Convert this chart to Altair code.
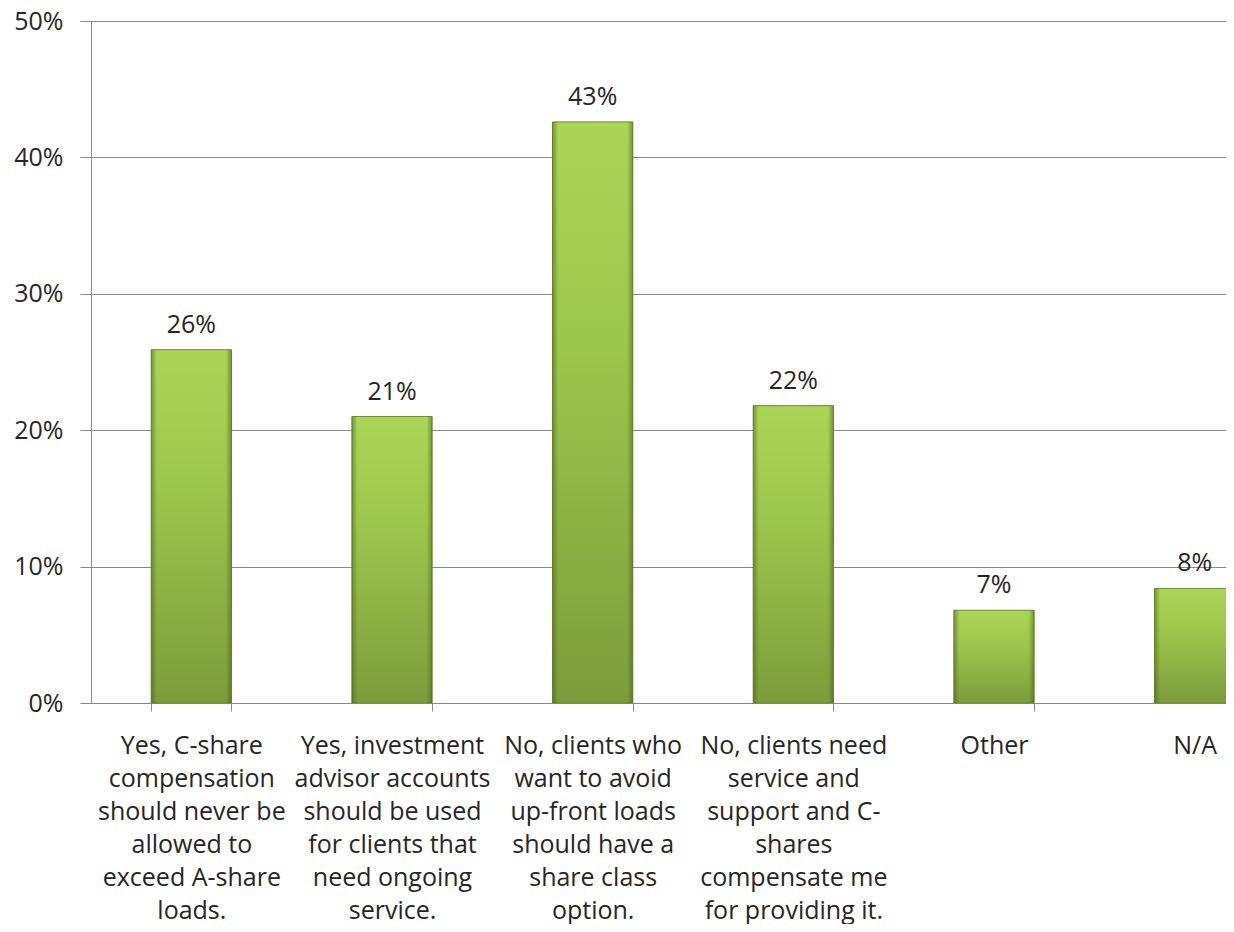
import altair as alt
import pandas as pd

# Data
categories = ["c1", "c2", "c3", "c4", "c5", "c6"]
label_lines = [
    ["Yes, C-share", "compensation", "should never be", "allowed to", "exceed A-share", "loads."],
    ["Yes, investment", "advisor accounts", "should be used", "for clients that", "need ongoing", "service."],
    ["No, clients who", "want to avoid", "up-front loads", "should have a", "share class", "option."],
    ["No, clients need", "service and", "support and C-", "shares", "compensate me", "for providing it."],
    ["Other"],
    ["N/A"],
]
values = [0.259, 0.210, 0.426, 0.218, 0.068, 0.084]
y_ticks = [0, 0.1, 0.2, 0.3, 0.4, 0.5]

labels = ["|".join(l) for l in label_lines]
df = pd.DataFrame({"cat": labels, "value": values})

FONT = "Open Sans"
FS_X = 25
FS = 25
TXT = "#262626"
GRID = "#8a8a8a"

xenc = alt.X(
    "cat:N",
    sort=labels,
    scale=alt.Scale(range=[0, 1204], paddingInner=0.6, paddingOuter=0.3),
    axis=alt.Axis(
        title=None,
        labelAngle=0,
        labelExpr="split(datum.label, '|')",
        labelLineHeight=33,
        labelFont=FONT,
        labelFontSize=FS_X,
        labelColor=TXT,
        labelPadding=22,
        labelLimit=400,
        labelOverlap=False,
        tickSize=8,
        tickBand="extent",
        tickColor=GRID,
        domainColor=GRID,
        labelAlign="center",
        labelBaseline="top",
        grid=False,
    ),
)
yenc = alt.Y(
    "value:Q",
    scale=alt.Scale(domain=[0, 0.5], nice=False),
    axis=alt.Axis(
        title=None,
        values=y_ticks,
        format=".0%",
        labelFont=FONT,
        labelFontSize=FS,
        labelColor=TXT,
        labelPadding=17,
        labelFlush=False,
        tickSize=11,
        tickColor=GRID,
        domainColor=GRID,
        gridColor=GRID,
        gridWidth=1,
    ),
)

base = alt.Chart(df)

bars = base.mark_bar(
    color=alt.Gradient(
        gradient="linear",
        stops=[
            alt.GradientStop(color="#acd557", offset=0),
            alt.GradientStop(color="#9cc54c", offset=0.4),
            alt.GradientStop(color="#7c9c3b", offset=1),
        ],
        x1=0, x2=0, y1=0, y2=1,
    ),
    stroke="#6d8a32",
    strokeWidth=1,
).encode(x=xenc, y=yenc)

edges = base.mark_bar(
    color=alt.Gradient(
        gradient="linear",
        stops=[
            alt.GradientStop(color="rgba(70,95,25,0.55)", offset=0),
            alt.GradientStop(color="rgba(70,95,25,0)", offset=0.07),
            alt.GradientStop(color="rgba(70,95,25,0)", offset=0.93),
            alt.GradientStop(color="rgba(70,95,25,0.55)", offset=1),
        ],
        x1=0, x2=1, y1=0, y2=0,
    ),
).encode(x=xenc, y=yenc)

text = base.mark_text(
    font=FONT, fontSize=FS, color=TXT, baseline="alphabetic", dy=-17
).encode(x=xenc, y=yenc, text=alt.Text("value:Q", format=".0%"))

chart = (
    alt.layer(bars, edges, text)
    .properties(
        width=1135,
        height=682,
        autosize=alt.AutoSizeParams(type="none"),
        padding={"left": 83, "top": 13, "right": 0, "bottom": 221},
    )
    .configure_view(stroke=None)
    .configure(background="white")
)

chart.save("out.html", embed_options={"renderer": "svg", "actions": False})
